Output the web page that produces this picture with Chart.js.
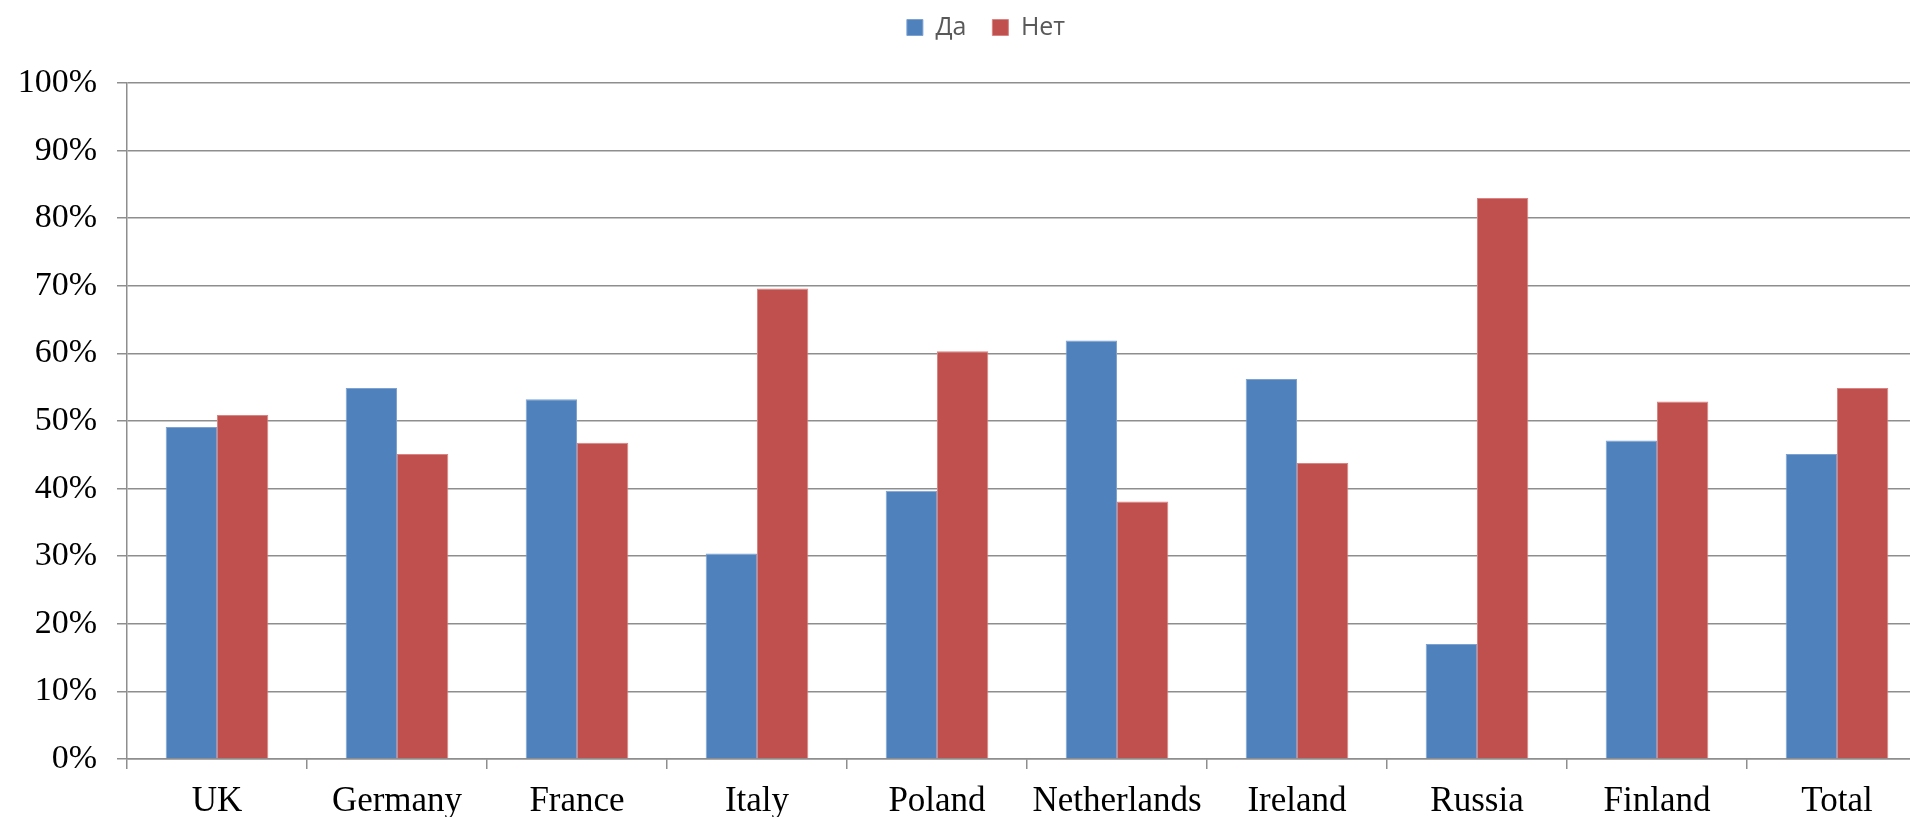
<!DOCTYPE html>
<html>
<head>
<meta charset="utf-8">
<script src="https://cdn.jsdelivr.net/npm/chart.js@4"></script>
<style>
html,body{margin:0;padding:0;overflow:hidden;background:#fff;width:1910px;height:817px;}
#wrap{position:absolute;left:0;top:0;width:1927px;height:817px;}
</style>
</head>
<body>
<div id="wrap"><canvas id="c" width="1927" height="817"></canvas></div>
<script>
const categories = ['UK','Germany','France','Italy','Poland','Netherlands','Ireland','Russia','Finland','Total'];
const seriesNames = ['Да','Нет'];
const yesValues = [49.1, 54.9, 53.2, 30.4, 39.7, 61.9, 56.2, 17.0, 47.1, 45.1];
const noValues  = [50.9, 45.1, 46.8, 69.6, 60.3, 38.1, 43.8, 83.0, 52.9, 54.9];
const yMin = 0, yMax = 100, yStep = 10;

const legendTweak = {
  id: 'legendTweak',
  afterInit(chart) {
    const lg = chart.legend;
    if (!lg) return;
    const orig = lg.fit;
    lg.fit = function () { orig.call(this); this.height += 22; };
  },
  afterLayout(chart) {
    const lg = chart.legend;
    if (!lg) return;
    lg.left += 45;
    lg.top -= 11;
  }
};

new Chart(document.getElementById('c'), {
  type: 'bar',
  data: {
    labels: categories,
    datasets: [
      { label: seriesNames[0], data: yesValues, backgroundColor: '#4F81BD', borderColor: '#7DA2D2', borderWidth: 1, borderSkipped: 'bottom' },
      { label: seriesNames[1], data: noValues, backgroundColor: '#C0504D', borderColor: '#D98482', borderWidth: 1, borderSkipped: 'bottom' }
    ]
  },
  plugins: [legendTweak],
  options: {
    responsive: false,
    animation: false,
    devicePixelRatio: 1,
    layout: { padding: { left: 0, right: 0, top: 0, bottom: 0 } },
    datasets: { bar: { categoryPercentage: 0.57, barPercentage: 1.0 } },
    plugins: {
      legend: {
        position: 'top',
        labels: {
          boxWidth: 16, boxHeight: 16, padding: 26,
          color: '#595959',
          font: { family: '"Open Sans"', size: 25 }
        }
      },
      tooltip: { enabled: false }
    },
    scales: {
      x: {
        offset: true,
        grid: { offset: true, drawOnChartArea: false, drawTicks: true, tickLength: 10, color: '#8e8e8e', lineWidth: 1.5 },
        border: { display: true, color: '#8e8e8e', width: 1.5 },
        ticks: { color: '#000', font: { family: '"Liberation Serif"', size: 35 }, padding: 12, maxRotation: 0, autoSkip: false },
        afterFit(s) { s.height = 58; }
      },
      y: {
        min: yMin, max: yMax,
        grid: { color: '#8e8e8e', lineWidth: 1.5, tickLength: 10 },
        border: { display: true, color: '#8e8e8e', width: 1.5 },
        ticks: { stepSize: yStep, color: '#000', font: { family: '"Liberation Serif"', size: 34 }, padding: 20, callback: v => v + '%' },
        afterFit(s) { s.width = 127; }
      }
    }
  }
});
</script>
</body>
</html>
